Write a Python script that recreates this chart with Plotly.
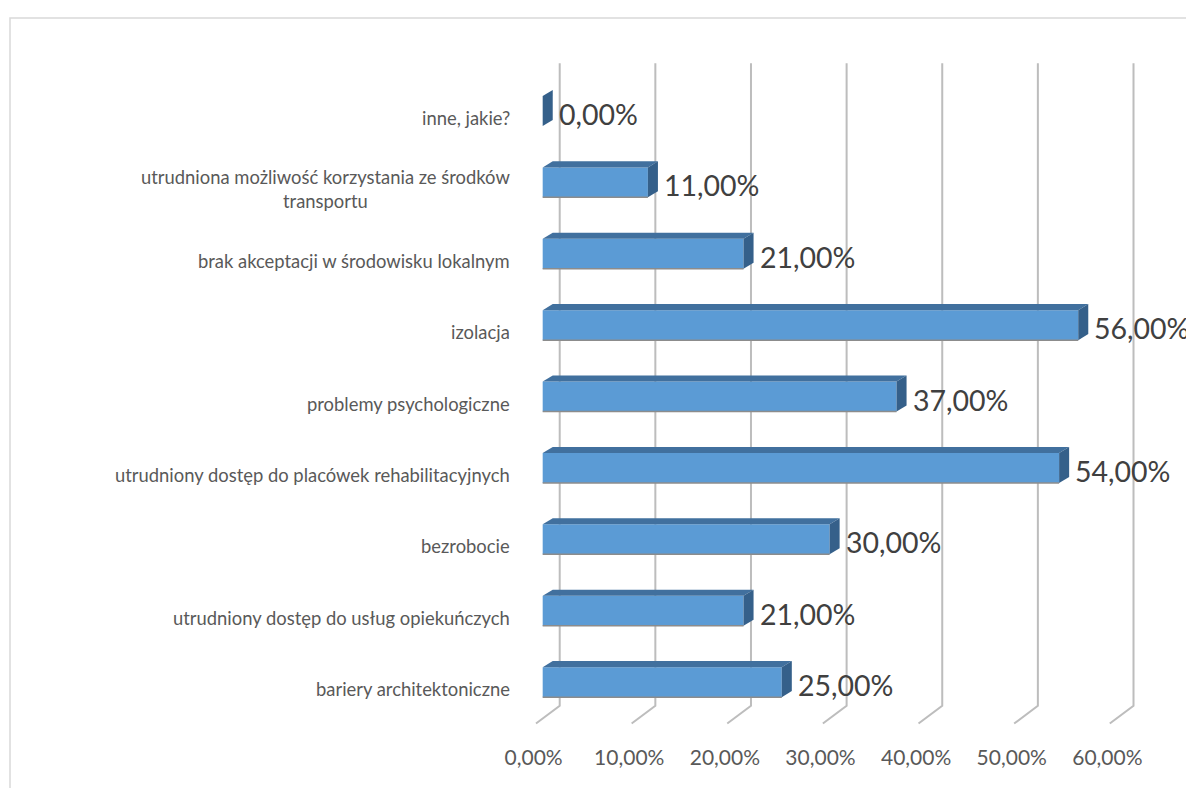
import plotly.graph_objects as go

# dane (od dołu wykresu do góry)
categories = [
    "bariery architektoniczne",
    "utrudniony dostęp do usług opiekuńczych",
    "bezrobocie",
    "utrudniony dostęp do placówek rehabilitacyjnych",
    "problemy psychologiczne",
    "izolacja",
    "brak akceptacji w środowisku lokalnym",
    "utrudniona możliwość korzystania ze środków<br>transportu",
    "inne, jakie?",
]
values = [25, 21, 30, 54, 37, 56, 21, 11, 0]
x_ticks = [0, 10, 20, 30, 40, 50, 60]
x_tick_labels = ["0,00%", "10,00%", "20,00%", "30,00%", "40,00%", "50,00%", "60,00%"]

# strona ma 8px marginesu body, więc wszystko przesunięte o 8px w lewo/górę
W, H = 1194, 788
ML, MR, MT, MB = 506, 53, 53, 71
X_RANGE = [-3, 63.4]
Y_RANGE = [-0.6, 8.7]
pw = W - ML - MR
ph = H - MT - MB

FONT = "Lato"
FRONT = "#5B9BD5"
TOP = "#41709E"
SIDE = "#35608A"

bar_w = 0.42
dx = 1.05      # głębokość 3D w jednostkach osi x
dy = 0.085     # głębokość 3D w jednostkach osi y
pos = list(range(len(categories)))

fig = go.Figure()
fig.add_trace(go.Bar(
    x=values, y=pos, orientation="h", width=bar_w,
    marker=dict(color=FRONT, line=dict(width=0)),
    hoverinfo="skip", showlegend=False,
))

shapes = []
# linie siatki (ściana tylna + podłoga)
for t in x_ticks:
    shapes.append(dict(
        type="path", xref="x", yref="y", layer="below",
        path=f"M {t + 1.78},{8.67} L {t + 1.78},{-0.33} L {t - 0.7},{-0.58}",
        line=dict(color="#BDBDBD", width=2),
    ))

# ściany 3D słupków
for p, v in zip(pos, values):
    yt = p + bar_w / 2
    yb = p - bar_w / 2
    if v > 0:
        shapes.append(dict(
            type="path", xref="x", yref="y", layer="above",
            path=f"M 0,{yt} L {dx},{yt + dy} L {v + dx},{yt + dy} L {v},{yt} Z",
            fillcolor=TOP, line=dict(width=0),
        ))
        # cień dolnej krawędzi
        shapes.append(dict(
            type="line", xref="x", yref="y", layer="above",
            x0=0, x1=v, y0=yb, y1=yb,
            line=dict(color="#8C8C8C", width=1.5),
        ))
    shapes.append(dict(
        type="path", xref="x", yref="y", layer="above",
        path=f"M {v},{yb} L {v},{yt} L {v + dx},{yt + dy} L {v + dx},{yb + dy} Z",
        fillcolor=SIDE, line=dict(width=0),
    ))

# ramka wykresu
shapes.append(dict(
    type="rect", xref="paper", yref="paper",
    x0=(2 - ML) / pw, x1=(W + 20 - ML) / pw,
    y0=-(MB + 20) / ph, y1=1 + (MT - 10) / ph,
    line=dict(color="#D9D9D9", width=1.5), fillcolor="rgba(0,0,0,0)", layer="below",
))

annotations = []
for p, c in zip(pos, categories):
    annotations.append(dict(
        x=0, xref="paper", y=p, yref="y", text=c, showarrow=False,
        xanchor="right", yanchor="middle", align="center", xshift=-2, yshift=-7,
        font=dict(family=FONT, size=18.4, color="#595959"),
    ))
for p, v in zip(pos, values):
    annotations.append(dict(
        x=v, xref="x", y=p, yref="y", text=f"{v:.2f}%".replace(".", ","),
        showarrow=False, xanchor="left", yanchor="middle", xshift=14, yshift=-3,
        font=dict(family=FONT, size=28.5, color="#404040"),
    ))

fig.update_layout(
    width=W, height=H,
    margin=dict(l=ML, r=MR, t=MT, b=MB),
    paper_bgcolor="white", plot_bgcolor="white",
    xaxis=dict(
        range=X_RANGE, showgrid=False, zeroline=False, showline=False,
        tickvals=[t - 0.95 for t in x_ticks], ticktext=x_tick_labels,
        ticks="", ticklabelstandoff=18,
        tickfont=dict(family=FONT, size=21, color="#595959"),
    ),
    yaxis=dict(
        range=Y_RANGE, showgrid=False, zeroline=False, showline=False,
        showticklabels=False,
    ),
    shapes=shapes,
    annotations=annotations,
    bargap=0.5,
)

fig.write_html("out.html")
